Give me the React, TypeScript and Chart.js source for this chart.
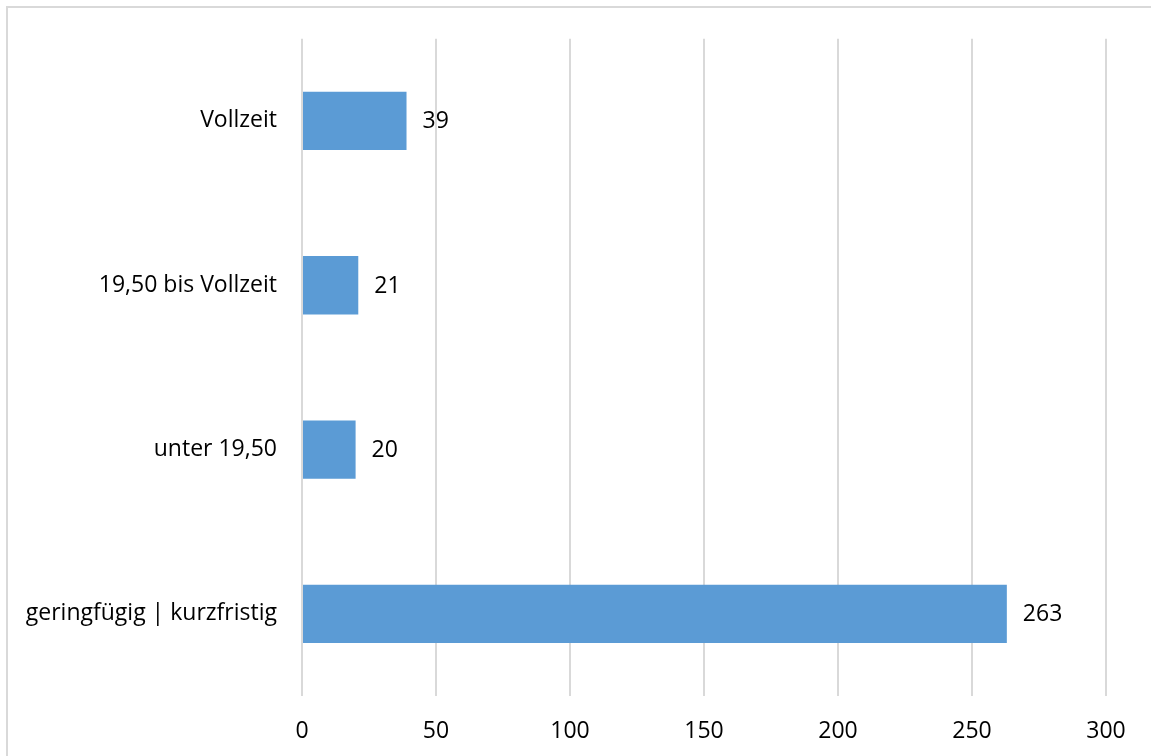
import React, { useEffect, useRef } from "react";
import { Chart, registerables } from "chart.js";

Chart.register(...registerables);

const categories = ["Vollzeit", "19,50 bis Vollzeit", "unter 19,50", "geringfügig | kurzfristig"];
const values = [39, 21, 20, 263];
const xTicks = [0, 50, 100, 150, 200, 250, 300];

const FONT_FAMILY = "'Open Sans', sans-serif";
const FONT_SIZE = 23;

const valueLabels = {
  id: "valueLabels",
  afterDatasetsDraw(chart: any) {
    const ctx = chart.ctx;
    const meta = chart.getDatasetMeta(0);
    ctx.save();
    ctx.font = `${FONT_SIZE}px ${FONT_FAMILY}`;
    ctx.fillStyle = "#000";
    ctx.textAlign = "left";
    ctx.textBaseline = "middle";
    meta.data.forEach((bar: any, i: number) => {
      ctx.fillText(String(values[i]), bar.x + 16, bar.y + 1);
    });
    ctx.restore();
  },
};

export default function App() {
  const ref = useRef<HTMLCanvasElement | null>(null);
  useEffect(() => {
    if (!ref.current) return;
    const chart = new Chart(ref.current, {
      type: "bar",
      data: {
        labels: categories,
        datasets: [
          {
            data: values,
            backgroundColor: "#5B9BD5",
            barPercentage: 0.355,
            categoryPercentage: 1,
          },
        ],
      },
      options: {
        indexAxis: "y",
        responsive: false,
        animation: false,
        layout: { padding: { top: 37, right: 45, left: 0, bottom: 0 } },
        plugins: { legend: { display: false }, tooltip: { enabled: false } },
        scales: {
          x: {
            type: "linear",
            position: "bottom",
            min: 0,
            max: 300,
            afterBuildTicks: (scale: any) => {
              scale.ticks = xTicks.map((v) => ({ value: v }));
            },
            afterFit: (scale: any) => {
              scale.height = 60;
            },
            grid: { color: "#d9d9d9", lineWidth: 2, drawTicks: false },
            border: { display: false },
            ticks: {
              padding: 22,
              color: "#000",
              font: { family: FONT_FAMILY, size: FONT_SIZE },
            },
          },
          y: {
            type: "category",
            afterFit: (scale: any) => {
              scale.width = 302;
            },
            grid: { display: false, drawTicks: false },
            border: { display: false },
            ticks: {
              padding: 25,
              color: "#000",
              font: { family: FONT_FAMILY, size: FONT_SIZE },
            },
          },
        },
      },
      plugins: [valueLabels],
    });
    return () => chart.destroy();
  }, []);

  return (
    <div
      style={{
        position: "absolute",
        left: 0,
        top: 0,
        width: 1151,
        height: 756,
        overflow: "hidden",
        background: "#fff",
      }}
    >
      <div
        style={{
          position: "absolute",
          left: 6,
          top: 6,
          width: 1200,
          height: 800,
          border: "2px solid #d9d9d9",
        }}
      />
      <canvas
        ref={ref}
        width={1151}
        height={756}
        style={{ position: "absolute", left: 0, top: 0, width: 1151, height: 756 }}
      />
    </div>
  );
}
